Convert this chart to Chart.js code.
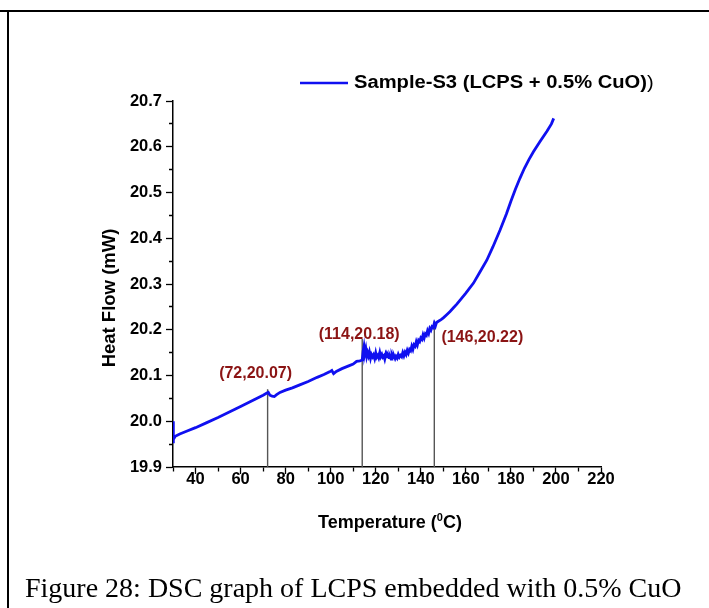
<!DOCTYPE html>
<html>
<head>
<meta charset="utf-8">
<title>DSC graph</title>
<script src="https://cdn.jsdelivr.net/npm/chart.js@4.4.1/dist/chart.umd.min.js"></script>
<style>
  body { margin: 0; background: #fff; }
  #wrap { position: relative; width: 709px; height: 608px; overflow: hidden; }
  #wrap canvas { position: absolute; left: 0; top: 0; }
  #frameTop { position: absolute; left: 0; top: 10px; width: 709px; height: 2px; background: #000; }
  #frameLeft { position: absolute; left: 7px; top: 10px; width: 2px; height: 598px; background: #000; }
  #caption { position: absolute; left: 25px; top: 572px; font: 28px "Liberation Serif", "Times New Roman", serif; white-space: nowrap; }
</style>
</head>
<body>
<div id="wrap">
  <canvas id="dscChart" width="709" height="608"></canvas>
  <div id="frameTop"></div>
  <div id="frameLeft"></div>
  <div id="caption">Figure 28: DSC graph of LCPS embedded with 0.5% CuO</div>
</div>
<script>
// DSC trace: temperature (°C) and heat flow (mW), one row per stretch of the run
const temperature = [
  30, 30, 30.3, 31, 33, 36, 40, 45, 50, 55, 60, 64, 68, 70, 71.5, 72.3, 73, 74, 75, 76, 77.5,
  80, 83, 86, 90, 94, 97, 99.5, 100.5, 101.3, 102.5, 105, 108, 110, 111.5, 113, 114,
  114.4, 114.8, 115.2, 115.6, 116, 116.4, 116.8, 117.2, 117.7, 118.1,
  118.6, 119, 119.5, 120, 120.4, 120.9, 121.3, 121.8, 122.2, 122.7,
  123.1, 123.6, 124, 124.5, 125, 125.4, 125.9, 126.3, 126.8, 127.2,
  127.7, 128.1, 128.6, 129, 129.5, 130, 130.5, 131, 131.5, 132,
  132.5, 133, 133.5, 134, 134.5, 135, 135.5, 136, 136.5, 137,
  137.5, 138, 138.5, 139, 139.5, 140, 140.5, 141, 141.5, 142,
  142.5, 143, 143.5, 144, 144.5, 145, 145.5, 146, 146.5, 147,
  148, 149, 150, 151.5, 153, 154.5, 156, 158, 160, 163.4,
  166, 169.3, 172, 175.2, 178, 180, 182, 184, 186, 188,
  190, 193, 196, 198, 199
];
const heatFlow = [
  20.0, 19.952, 19.960, 19.967, 19.972, 19.978, 19.986, 19.997, 20.008, 20.020, 20.032, 20.042, 20.052, 20.057, 20.061, 20.063, 20.057, 20.055, 20.054, 20.058, 20.063,
  20.068, 20.073, 20.079, 20.087, 20.096, 20.102, 20.108, 20.111, 20.104, 20.109, 20.115, 20.121, 20.125, 20.131, 20.132, 20.134,
  20.153, 20.164, 20.149, 20.158, 20.142, 20.150, 20.143, 20.151, 20.138, 20.146,
  20.141, 20.145, 20.137, 20.149, 20.140, 20.144, 20.139, 20.150, 20.141, 20.146,
  20.140, 20.143, 20.136, 20.147, 20.141, 20.144, 20.139, 20.142, 20.136, 20.145,
  20.139, 20.143, 20.137, 20.142, 20.138, 20.146, 20.140, 20.144, 20.141, 20.150,
  20.143, 20.151, 20.146, 20.155, 20.149, 20.157, 20.154, 20.164, 20.157, 20.167,
  20.164, 20.174, 20.167, 20.177, 20.174, 20.182, 20.179, 20.189, 20.182, 20.191,
  20.188, 20.198, 20.192, 20.203, 20.199, 20.207, 20.205, 20.214, 20.208, 20.216,
  20.219, 20.222, 20.226, 20.233, 20.240, 20.248, 20.256, 20.268, 20.280, 20.302,
  20.324, 20.352, 20.381, 20.418, 20.453, 20.481, 20.507, 20.531, 20.553, 20.572,
  20.589, 20.612, 20.634, 20.650, 20.662
];

// marked transition points
const markTemps = [72, 114, 146];
const markFlows = [20.07, 20.18, 20.22];
const markLabels = markTemps.map((t, i) => `(${t},${markFlows[i].toFixed(2)})`);

// axis ranges
const xMin = 30, xMax = 220, xStep = 10;
const yMin = 19.9, yMax = 20.7, yStep = 0.05;

const seriesName = 'Sample-S3 (LCPS + 0.5% CuO)';

const FONT = '"Liberation Sans", Arial, sans-serif';
const LINE_BLUE = '#1010f0';
const MARK_RED = '#8b1414';

const isMajorX = v => Math.round(v) % 20 === 0;
const isMajorY = v => Math.round(v * 100) % 10 === 0;

const decorations = {
    id: 'decorations',
    beforeDatasetsDraw(chart) {
        const { ctx, scales: { x, y } } = chart;
        ctx.save();
        ctx.strokeStyle = '#555';
        ctx.lineWidth = 1.4;
        markTemps.forEach((t, i) => {
            const px = x.getPixelForValue(t);
            ctx.beginPath();
            ctx.moveTo(px, y.getPixelForValue(markFlows[i]));
            ctx.lineTo(px, y.bottom);
            ctx.stroke();
        });
        ctx.restore();
    },
    afterDatasetsDraw(chart) {
        const { ctx, chartArea, scales: { x, y } } = chart;
        ctx.save();

        // point labels
        const shift = [[-12, -16], [-3, -4], [48, 17]];
        ctx.fillStyle = MARK_RED;
        ctx.font = `bold 16px ${FONT}`;
        ctx.textAlign = 'center';
        ctx.textBaseline = 'middle';
        markTemps.forEach((t, i) => {
            ctx.fillText(markLabels[i],
                x.getPixelForValue(t) + shift[i][0],
                y.getPixelForValue(markFlows[i]) + shift[i][1]);
        });

        // legend (text is drawn a little wide)
        const lx = chartArea.left + 127, ly = chartArea.top - 18;
        ctx.strokeStyle = LINE_BLUE;
        ctx.lineWidth = 2.5;
        ctx.beginPath();
        ctx.moveTo(lx, ly);
        ctx.lineTo(lx + 48, ly);
        ctx.stroke();
        ctx.save();
        ctx.translate(lx + 54, ly);
        ctx.scale(1.12, 1);
        ctx.fillStyle = '#000';
        ctx.textAlign = 'left';
        ctx.font = `bold 18px ${FONT}`;
        ctx.fillText(seriesName, 0, 0);
        const w = ctx.measureText(seriesName).width;
        ctx.font = `18px ${FONT}`;
        ctx.fillText(')', w, 0);
        ctx.restore();

        // x title with superscript zero
        ctx.fillStyle = '#000';
        ctx.textAlign = 'left';
        ctx.textBaseline = 'alphabetic';
        const big = `bold 18px ${FONT}`, small = `bold 11px ${FONT}`;
        const parts = [['Temperature (', big, 0], ['0', small, -7], ['C)', big, 0]];
        let total = 0;
        parts.forEach(p => { ctx.font = p[1]; total += ctx.measureText(p[0]).width; });
        let cx = (chartArea.left + chartArea.right) / 2 + 3 - total / 2;
        const by = chartArea.bottom + 61;
        parts.forEach(p => {
            ctx.font = p[1];
            ctx.fillText(p[0], cx, by + p[2]);
            cx += ctx.measureText(p[0]).width;
        });

        // y title
        ctx.translate(chartArea.left - 63, (chartArea.top + chartArea.bottom) / 2 + 14);
        ctx.rotate(-Math.PI / 2);
        ctx.textAlign = 'center';
        ctx.textBaseline = 'middle';
        ctx.font = `bold 18.5px ${FONT}`;
        ctx.fillText('Heat Flow (mW)', 0, 0);
        ctx.restore();
    }
};

const ctx = document.getElementById('dscChart').getContext('2d');
const dscChart = new Chart(ctx, {
    type: 'line',
    data: {
        datasets: [{
            label: seriesName,
            data: temperature.map((t, i) => ({ x: t, y: heatFlow[i] })),
            borderColor: LINE_BLUE,
            borderWidth: 2.8,
            pointRadius: 0,
            tension: 0,
            fill: false
        }]
    },
    options: {
        responsive: false,
        animation: false,
        layout: { padding: { left: 113, right: 108, top: 101, bottom: 81 } },
        plugins: {
            legend: { display: false },
            tooltip: { enabled: false }
        },
        scales: {
            x: {
                type: 'linear',
                min: xMin,
                max: xMax,
                afterFit: s => { s.height = 60; },
                border: { display: true, color: '#000', width: 1.5 },
                grid: {
                    drawOnChartArea: false,
                    drawTicks: true,
                    tickLength: 7,
                    tickColor: '#000',
                    tickWidth: 1.3,
                    tickBorderDash: c => isMajorX(c.tick.value) ? [] : [4, 20]
                },
                ticks: {
                    stepSize: xStep,
                    autoSkip: false,
                    maxRotation: 0,
                    padding: -4,
                    color: '#000',
                    font: { family: FONT, size: 16.5, weight: 'bold' },
                    callback: v => isMajorX(v) && v > xMin ? String(v) : ''
                }
            },
            y: {
                type: 'linear',
                min: yMin,
                max: yMax,
                afterFit: s => { s.width = 60; },
                border: { display: true, color: '#000', width: 1.5 },
                grid: {
                    drawOnChartArea: false,
                    drawTicks: true,
                    tickLength: 7,
                    tickColor: '#000',
                    tickWidth: 1.3,
                    tickBorderDash: c => isMajorY(c.tick.value) ? [] : [0, 3, 4, 20]
                },
                ticks: {
                    stepSize: yStep,
                    autoSkip: false,
                    padding: 4,
                    color: '#000',
                    font: { family: FONT, size: 16.5, weight: 'bold' },
                    callback: v => isMajorY(v) ? v.toFixed(1) : ''
                }
            }
        }
    },
    plugins: [decorations]
});
</script>
</body>
</html>
